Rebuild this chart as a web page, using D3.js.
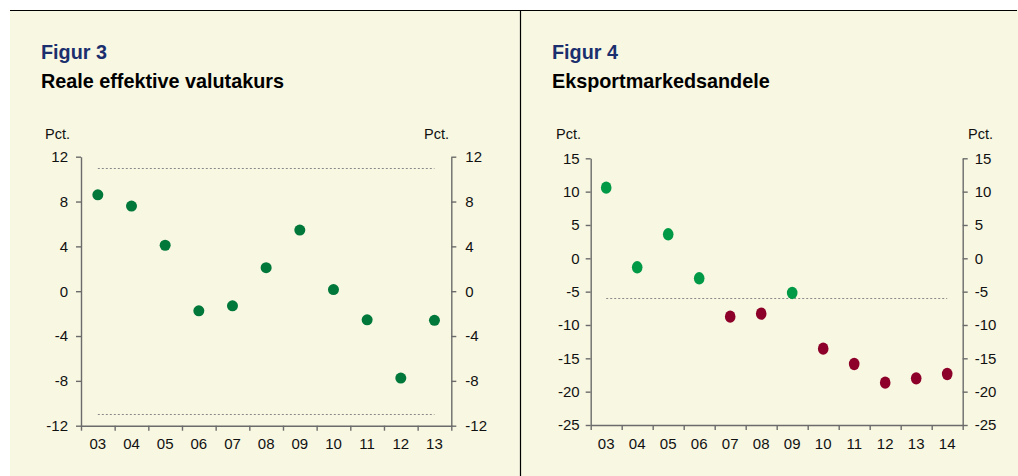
<!DOCTYPE html>
<html>
<head>
<meta charset="utf-8">
<script src="https://cdn.jsdelivr.net/npm/d3@7"></script>
<style>
  html, body { margin: 0; padding: 0; background: #ffffff; }
  svg { display: block; }
  text { font-family: "Liberation Sans", Arial, sans-serif; }
</style>
</head>
<body>
<svg id="chart" width="1018" height="476"></svg>
<script>
// ---- Data ----
const years1 = ["03","04","05","06","07","08","09","10","11","12","13"];
const values1 = [8.6, 7.6, 4.1, -1.75, -1.3, 2.1, 5.45, 0.15, -2.55, -7.75, -2.6];
const band1 = [11, -11];
const yTicks1 = [12, 8, 4, 0, -4, -8, -12];

const years2 = ["03","04","05","06","07","08","09","10","11","12","13","14"];
const values2 = [10.6, -1.35, 3.6, -3.0, -8.75, -8.3, -5.2, -13.55, -15.85, -18.65, -18.0, -17.35];
const threshold2 = -6;
const yTicks2 = [15, 10, 5, 0, -5, -10, -15, -20, -25];

const titles = [
  { fig: "Figur 3", title: "Reale effektive valutakurs" },
  { fig: "Figur 4", title: "Eksportmarkedsandele" }
];
const unitLabel = "Pct.";

// ---- Styles ----
const cream = "#f8f7e2";
const navy = "#1b2f6e";
const axisColor = "#6b6b6b";
const green1 = "#00783a";
const green2 = "#009a46";
const red2 = "#8c0029";

const svg = d3.select("#chart");

svg.append("rect").attr("x", 10).attr("y", 10).attr("width", 1008).attr("height", 466).attr("fill", cream);
svg.append("line").attr("x1", 10).attr("x2", 1017).attr("y1", 10.5).attr("y2", 10.5)
  .attr("stroke", "#000").attr("stroke-width", 1.2);
svg.append("line").attr("x1", 520.5).attr("x2", 520.5).attr("y1", 10).attr("y2", 476)
  .attr("stroke", "#000").attr("stroke-width", 1.2);

const titleX = [41, 552];
titles.forEach((t, i) => {
  svg.append("text").attr("x", titleX[i]).attr("y", 59).attr("fill", navy)
    .attr("font-size", 19.8).attr("font-weight", "bold").text(t.fig);
  svg.append("text").attr("x", titleX[i]).attr("y", 88).attr("fill", "#000")
    .attr("font-size", 19.8).attr("font-weight", "bold").text(t.title);
});

const fmt = d => String(d);

function styleAxis(g) {
  g.select(".domain").attr("stroke", axisColor).attr("stroke-width", 1.4);
  g.selectAll(".tick line").attr("stroke", axisColor).attr("stroke-width", 1.4);
  g.selectAll(".tick text").attr("fill", "#111").attr("font-size", 15)
    .attr("font-family", "'Liberation Sans', Arial, sans-serif");
}

function drawChart(opts) {
  const { cats, vals, x0, x1, yTop, yBot, domain, ticks, pctLeftX, pctRightX, labelPadL, labelPadR } = opts;
  const g = svg.append("g");
  const x = d3.scaleBand().domain(cats).range([x0, x1]).padding(0);
  const xi = d3.scaleLinear().domain([0, cats.length]).range([x0, x1]);
  const y = d3.scaleLinear().domain(domain).range([yBot, yTop]);

  opts.refLines.forEach(v => {
    g.append("line")
      .attr("x1", x(cats[0]) + x.bandwidth() / 2)
      .attr("x2", x(cats[cats.length - 1]) + x.bandwidth() / 2)
      .attr("y1", Math.round(y(v)) + 0.5).attr("y2", Math.round(y(v)) + 0.5)
      .attr("stroke", "#8a8a8a").attr("stroke-width", 1).attr("stroke-dasharray", "2,2");
  });

  const gl = g.append("g").attr("transform", `translate(${x0},0)`)
    .call(d3.axisLeft(y).tickValues(ticks).tickFormat(fmt).tickSize(5).tickPadding(labelPadL).tickSizeOuter(0));
  styleAxis(gl);
  const gr = g.append("g").attr("transform", `translate(${x1},0)`)
    .call(d3.axisRight(y).tickValues(ticks).tickFormat(fmt).tickSize(5).tickPadding(labelPadR).tickSizeOuter(0));
  styleAxis(gr);
  const gb = g.append("g").attr("transform", `translate(0,${yBot})`)
    .call(d3.axisBottom(xi).tickValues(d3.range(cats.length + 1)).tickSize(5).tickFormat("").tickSizeOuter(0));
  styleAxis(gb);
  const gbl = g.append("g").attr("transform", `translate(0,${yBot})`)
    .call(d3.axisBottom(x).tickSize(0).tickPadding(13));
  gbl.select(".domain").remove();
  styleAxis(gbl);

  g.append("text").attr("x", pctLeftX).attr("y", 139).attr("font-size", 14.5).attr("fill", "#111").text(unitLabel);
  g.append("text").attr("x", pctRightX).attr("y", 139).attr("font-size", 14.5).attr("fill", "#111")
    .attr("text-anchor", "end").text(unitLabel);

  g.selectAll("ellipse.pt").data(vals).enter().append("ellipse")
    .attr("class", "pt")
    .attr("cx", (d, i) => x(cats[i]) + x.bandwidth() / 2)
    .attr("cy", d => y(d))
    .attr("rx", opts.rx).attr("ry", opts.ry)
    .attr("fill", (d, i) => opts.color(d, i));
}

drawChart({
  cats: years1, vals: values1, x0: 81, x1: 451.3, yTop: 156.7, yBot: 425.7,
  domain: [-12, 12], ticks: yTicks1, pctLeftX: 45, pctRightX: 449,
  labelPadL: 8, labelPadR: 9, refLines: band1, rx: 5.5, ry: 5.5,
  color: () => green1
});

drawChart({
  cats: years2, vals: values2, x0: 590.7, x1: 962.7, yTop: 158.3, yBot: 425,
  domain: [-25, 15], ticks: yTicks2, pctLeftX: 556, pctRightX: 993,
  labelPadL: 6, labelPadR: 7, refLines: [threshold2], rx: 5.3, ry: 6.2,
  color: (d) => d > threshold2 ? green2 : red2
});
</script>
</body>
</html>
